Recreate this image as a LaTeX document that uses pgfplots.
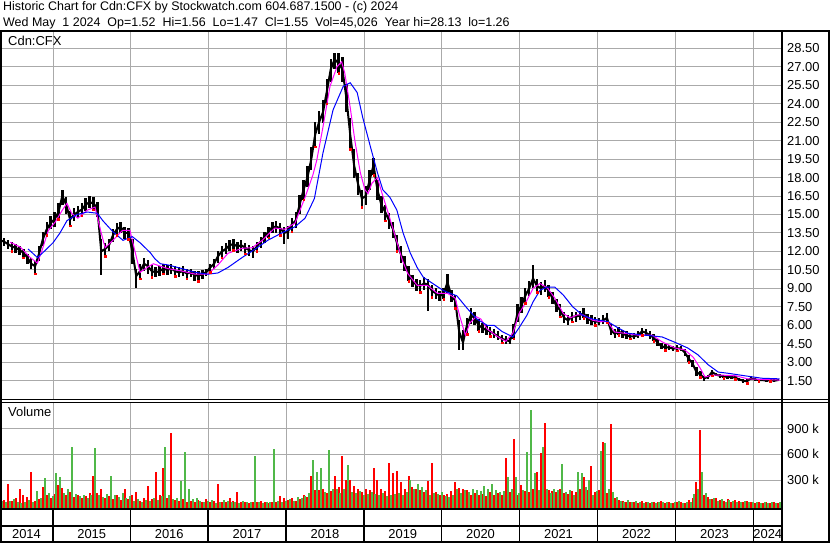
\documentclass[border=0pt]{standalone}
\usepackage{fontspec}
\setmainfont{Liberation Sans}
\usepackage{pgfplots}
\usepackage{pgfplotstable}
\pgfplotsset{compat=1.18}
\definecolor{gridgray}{RGB}{170,170,170}
\definecolor{volgreen}{RGB}{80,184,72}
\definecolor{volred}{RGB}{255,0,0}
\definecolor{magline}{RGB}{255,0,255}
\definecolor{blueline}{RGB}{0,0,255}

\pgfplotstableread{
t c lo hi
2014.32 12.9 12.5 13.3
2014.37 12.8 12.4 13.1
2014.42 12.6 12.2 12.9
2014.47 12.4 12.0 12.8
2014.52 12.3 11.9 12.6
2014.57 12.1 11.7 12.4
2014.62 11.9 11.5 12.2
2014.67 11.5 11.0 11.8
2014.72 11.0 10.6 11.5
2014.77 10.8 10.2 11.2
2014.82 11.8 11.2 12.4
2014.87 13.0 12.4 13.6
2014.92 13.8 13.3 14.4
2014.97 14.3 13.8 14.9
2015.02 14.6 14.0 15.2
2015.07 15.2 14.6 15.9
2015.12 16.5 15.8 17.0
2015.17 15.8 15.0 16.4
2015.22 14.6 14.1 15.3
2015.27 15.0 14.5 15.5
2015.32 15.2 14.7 15.7
2015.37 15.4 14.9 15.9
2015.42 15.8 15.3 16.3
2015.47 16.0 15.5 16.5
2015.52 15.9 15.4 16.4
2015.57 15.5 14.8 16.0
2015.62 12.0 10.1 13.0
2015.67 12.2 11.6 12.7
2015.72 12.5 12.0 13.0
2015.77 13.3 12.8 13.8
2015.82 13.8 13.3 14.3
2015.87 14.0 13.5 14.4
2015.92 13.5 13.0 14.0
2015.97 13.5 13.0 13.9
2016.02 12.0 11.0 13.0
2016.07 10.0 9.0 10.6
2016.12 10.4 9.8 11.0
2016.17 11.0 10.4 11.5
2016.22 10.8 10.2 11.3
2016.27 10.4 9.9 10.9
2016.32 10.3 9.9 10.7
2016.37 10.4 10.0 10.8
2016.42 10.6 10.2 11.0
2016.47 10.5 10.1 10.9
2016.52 10.6 10.2 11.0
2016.57 10.4 10.0 10.8
2016.62 10.3 9.9 10.7
2016.67 10.4 10.0 10.8
2016.72 10.2 9.8 10.6
2016.77 10.3 9.9 10.6
2016.82 10.1 9.6 10.4
2016.87 10.0 9.6 10.4
2016.92 10.2 9.8 10.5
2016.97 10.3 10.0 10.6
2017.02 10.7 10.3 11.0
2017.07 11.0 10.6 11.4
2017.12 11.6 11.1 12.0
2017.17 12.0 11.5 12.4
2017.22 12.2 11.8 12.7
2017.27 12.5 12.0 12.9
2017.32 12.6 12.1 13.0
2017.37 12.4 11.9 12.8
2017.42 12.5 12.0 12.9
2017.47 12.3 11.8 12.7
2017.52 12.1 11.6 12.5
2017.57 12.0 11.5 12.4
2017.62 12.4 12.0 12.8
2017.67 12.8 12.3 13.2
2017.72 13.2 12.7 13.6
2017.77 13.6 13.1 14.0
2017.82 14.0 13.5 14.4
2017.87 14.0 13.5 14.5
2017.92 13.9 13.3 14.3
2017.97 13.5 12.6 14.0
2018.02 13.6 13.0 14.1
2018.07 14.2 13.6 14.7
2018.12 14.5 13.9 15.2
2018.17 15.8 15.0 16.6
2018.22 17.0 16.2 17.8
2018.27 18.0 17.2 18.9
2018.32 19.5 18.6 20.5
2018.37 21.5 20.5 22.5
2018.42 22.5 21.5 23.4
2018.47 23.3 22.4 24.3
2018.52 25.0 24.0 26.0
2018.57 26.8 25.8 27.6
2018.62 27.6 26.8 28.1
2018.67 27.3 26.5 28.1
2018.72 26.8 25.8 27.8
2018.77 24.5 23.3 25.6
2018.82 21.5 20.3 22.8
2018.87 19.0 18.0 20.3
2018.92 17.5 16.6 18.4
2018.97 16.3 15.6 17.0
2019.02 16.5 15.8 17.3
2019.07 17.8 17.0 18.6
2019.12 19.0 18.2 19.6
2019.17 17.0 16.2 17.8
2019.22 15.8 15.1 16.5
2019.27 15.2 14.5 15.8
2019.32 14.5 13.8 15.1
2019.37 13.8 13.1 14.4
2019.42 12.7 12.0 13.3
2019.47 11.8 11.1 12.4
2019.52 11.0 10.4 11.6
2019.57 10.2 9.6 10.8
2019.62 9.6 9.1 10.1
2019.67 9.3 8.8 9.8
2019.72 9.2 8.7 9.7
2019.77 9.4 8.9 9.9
2019.82 9.3 7.2 9.8
2019.87 8.8 8.3 9.3
2019.92 8.6 8.1 9.0
2019.97 8.4 8.0 8.8
2020.02 8.5 8.1 9.0
2020.07 9.5 8.6 10.2
2020.12 8.4 7.9 8.9
2020.17 8.0 7.4 8.5
2020.22 5.5 4.0 6.4
2020.27 4.6 4.0 5.6
2020.32 6.0 5.3 6.6
2020.37 6.8 6.1 7.4
2020.42 6.6 6.0 7.1
2020.47 6.0 5.5 6.5
2020.52 5.8 5.4 6.2
2020.57 5.6 5.2 6.0
2020.62 5.5 5.1 5.9
2020.67 5.3 5.0 5.7
2020.72 5.1 4.8 5.5
2020.77 4.9 4.6 5.2
2020.82 4.8 4.5 5.1
2020.87 4.7 4.5 5.0
2020.92 5.5 4.9 6.1
2020.97 7.0 6.3 7.7
2021.02 7.6 7.0 8.3
2021.07 8.4 7.8 9.0
2021.12 9.0 8.4 9.6
2021.17 9.8 9.0 10.9
2021.22 9.2 8.7 9.8
2021.27 9.0 8.5 9.5
2021.32 9.2 8.7 9.7
2021.37 8.8 8.3 9.3
2021.42 8.2 7.7 8.7
2021.47 7.6 7.1 8.1
2021.52 7.2 6.7 7.7
2021.57 6.6 6.2 7.1
2021.62 6.4 6.0 6.8
2021.67 6.7 6.3 7.1
2021.72 6.7 6.3 7.1
2021.77 6.8 6.4 7.2
2021.82 7.0 6.6 7.4
2021.87 6.5 6.1 6.9
2021.92 6.4 6.0 6.8
2021.97 6.3 6.0 6.7
2022.02 6.3 6.0 6.6
2022.07 6.4 6.1 6.8
2022.12 6.6 6.2 7.0
2022.17 5.6 5.2 6.1
2022.22 5.3 5.0 5.7
2022.27 5.5 5.2 5.9
2022.32 5.3 5.0 5.6
2022.37 5.2 4.9 5.5
2022.42 5.1 4.9 5.4
2022.47 5.1 4.9 5.4
2022.52 5.2 5.0 5.5
2022.57 5.5 5.2 5.8
2022.62 5.4 5.1 5.7
2022.67 5.2 4.9 5.5
2022.72 5.0 4.7 5.3
2022.77 4.6 4.3 4.9
2022.82 4.3 4.1 4.6
2022.87 4.2 4.0 4.5
2022.92 4.2 4.0 4.4
2022.97 4.1 3.9 4.3
2023.02 4.15 3.95 4.4
2023.07 4.1 3.9 4.35
2023.12 3.8 3.5 4.1
2023.17 3.3 3.0 3.6
2023.22 2.9 2.6 3.2
2023.27 2.2 1.9 2.6
2023.32 2.0 1.8 2.3
2023.37 1.7 1.5 1.9
2023.42 1.8 1.6 2.0
2023.47 2.2 1.9 2.4
2023.52 2.0 1.85 2.15
2023.57 1.9 1.75 2.05
2023.62 1.85 1.7 2.0
2023.67 1.8 1.65 1.95
2023.72 1.8 1.65 1.95
2023.77 1.75 1.6 1.9
2023.82 1.6 1.45 1.75
2023.87 1.5 1.3 1.65
2023.92 1.45 1.3 1.6
2023.97 1.7 1.55 1.85
2024.02 1.6 1.5 1.75
2024.07 1.55 1.45 1.65
2024.12 1.55 1.45 1.65
2024.17 1.5 1.4 1.6
2024.22 1.55 1.45 1.65
2024.27 1.5 1.4 1.6
2024.32 1.55 1.47 1.6
}\price

\pgfplotstableread{
t m
2014.45 12.75
2014.58 12.35
2014.70 11.55
2014.80 11.05
2014.86 12.1
2014.94 13.7
2015.03 14.4
2015.12 15.35
2015.18 15.9
2015.24 15.1
2015.32 14.7
2015.44 15.35
2015.54 15.6
2015.60 14.0
2015.67 12.3
2015.77 12.9
2015.89 13.7
2015.99 13.7
2016.05 12.1
2016.12 10.3
2016.21 10.7
2016.29 11.0
2016.38 10.8
2016.48 10.6
2016.66 10.4
2016.83 10.15
2016.99 10.15
2017.12 10.9
2017.25 11.85
2017.43 12.25
2017.56 12.3
2017.69 12.9
2017.85 13.9
2017.98 13.8
2018.11 14.3
2018.24 16.4
2018.34 18.2
2018.39 19.4
2018.47 22.1
2018.56 25.4
2018.65 27.0
2018.71 27.4
2018.75 26.5
2018.82 23.7
2018.88 21.0
2018.95 18.4
2019.01 17.0
2019.05 16.7
2019.10 17.55
2019.17 18.0
2019.23 16.7
2019.31 15.1
2019.40 13.2
2019.49 11.3
2019.56 10.2
2019.68 9.25
2019.81 9.25
2019.94 8.6
2020.07 8.6
2020.17 8.2
2020.23 6.7
2020.30 5.2
2020.36 6.2
2020.44 6.7
2020.50 6.5
2020.58 5.7
2020.71 5.1
2020.82 4.7
2020.91 5.35
2020.99 6.95
2021.09 8.0
2021.17 9.0
2021.26 9.4
2021.36 9.0
2021.45 8.2
2021.56 6.95
2021.65 6.6
2021.74 6.85
2021.81 6.85
2021.94 6.4
2022.03 6.3
2022.13 6.3
2022.22 5.45
2022.35 5.35
2022.52 5.2
2022.70 5.2
2022.83 4.65
2023.00 4.15
2023.12 4.0
2023.23 3.4
2023.32 2.5
2023.38 1.8
2023.47 1.95
2023.60 1.95
2023.77 1.9
2023.93 1.65
2024.11 1.6
2024.34 1.55
}\maShort

\pgfplotstableread{
t b
2014.68 12.2
2014.80 11.5
2014.87 11.9
2015.00 12.7
2015.09 13.5
2015.18 14.5
2015.31 15.0
2015.44 15.2
2015.57 15.1
2015.64 14.5
2015.77 13.6
2015.90 12.9
2016.02 13.2
2016.12 12.7
2016.25 11.9
2016.31 11.4
2016.38 11.0
2016.48 10.9
2016.66 10.6
2016.83 10.3
2016.99 10.15
2017.12 10.25
2017.25 10.7
2017.43 11.5
2017.60 12.2
2017.76 12.9
2017.94 13.5
2018.11 14.0
2018.24 14.7
2018.36 16.3
2018.47 20.0
2018.60 23.5
2018.73 25.4
2018.82 25.7
2018.91 24.9
2018.98 22.9
2019.08 20.5
2019.17 18.4
2019.24 17.0
2019.33 16.4
2019.42 15.35
2019.50 13.5
2019.59 11.9
2019.68 10.7
2019.76 9.9
2019.88 9.4
2020.01 8.85
2020.10 8.6
2020.19 8.4
2020.32 7.4
2020.45 6.5
2020.58 6.0
2020.67 6.0
2020.77 5.5
2020.91 5.05
2020.99 5.8
2021.09 6.8
2021.17 7.9
2021.26 8.85
2021.35 9.1
2021.45 9.1
2021.56 8.45
2021.68 7.5
2021.81 6.8
2021.94 6.5
2022.13 6.3
2022.26 5.8
2022.39 5.35
2022.61 5.2
2022.83 5.05
2023.00 4.6
2023.16 4.15
2023.29 3.6
2023.42 2.8
2023.55 2.2
2023.68 2.1
2023.89 1.9
2024.11 1.7
2024.34 1.65
}\maLong

% volume in thousands: r = down-day (red), g = up-day (green)
\pgfplotstableread{
t r g
2014.32 85 60
2014.37 70 40
2014.42 254 55
2014.47 60 75
2014.52 90 45
2014.57 195 30
2014.62 126 50
2014.67 106 70
2014.72 397 40
2014.77 60 172
2014.82 80 90
2014.87 223 327
2014.92 120 150
2014.97 90 110
2015.02 140 378
2015.07 242 339
2015.12 203 150
2015.17 120 200
2015.22 160 688
2015.27 100 140
2015.32 130 110
2015.37 90 120
2015.42 110 90
2015.47 150 130
2015.52 347 676
2015.57 150 120
2015.62 200 100
2015.67 90 140
2015.72 110 347
2015.77 80 120
2015.82 130 100
2015.87 70 150
2015.92 192 90
2015.97 80 110
2016.02 120 60
2016.07 163 80
2016.12 60 50
2016.17 90 70
2016.22 234 60
2016.27 80 90
2016.32 397 70
2016.37 120 110
2016.42 444 688
2016.47 90 120
2016.52 851 80
2016.57 70 90
2016.62 60 292
2016.67 80 630
2016.72 50 192
2016.77 60 80
2016.82 40 90
2016.87 70 60
2016.92 50 40
2016.97 80 60
2017.02 40 70
2017.07 60 30
2017.12 254 40
2017.17 50 70
2017.22 40 60
2017.27 90 50
2017.32 60 40
2017.37 165 30
2017.42 40 60
2017.47 50 40
2017.52 30 50
2017.57 40 583
2017.62 50 40
2017.67 60 30
2017.72 40 50
2017.77 30 40
2017.82 50 661
2017.87 40 60
2017.92 114 50
2017.97 93 60
2018.02 70 80
2018.07 90 60
2018.12 60 100
2018.17 80 90
2018.22 120 110
2018.27 100 150
2018.32 347 533
2018.37 180 397
2018.42 180 436
2018.47 200 160
2018.52 150 649
2018.57 170 200
2018.62 347 190
2018.67 220 150
2018.72 579 200
2018.77 300 475
2018.82 300 160
2018.87 230 150
2018.92 200 170
2018.97 160 130
2019.02 190 140
2019.07 180 160
2019.12 436 140
2019.17 300 130
2019.22 200 150
2019.27 170 110
2019.32 494 120
2019.37 378 140
2019.42 405 150
2019.47 281 130
2019.52 190 160
2019.57 347 300
2019.62 220 200
2019.67 200 250
2019.72 180 220
2019.77 160 180
2019.82 289 130
2019.87 502 150
2019.92 160 140
2019.97 130 160
2020.02 120 110
2020.07 140 100
2020.12 170 130
2020.17 281 200
2020.22 203 150
2020.27 200 180
2020.32 180 160
2020.37 130 200
2020.42 150 180
2020.47 120 170
2020.52 140 230
2020.57 110 200
2020.62 160 250
2020.67 120 180
2020.72 150 160
2020.77 130 170
2020.82 552 339
2020.87 160 200
2020.92 777 339
2020.97 120 150
2021.02 242 180
2021.07 170 630
2021.12 160 1114
2021.17 200 376
2021.22 397 180
2021.27 610 688
2021.32 959 200
2021.37 180 150
2021.42 170 200
2021.47 160 180
2021.52 200 486
2021.57 150 160
2021.62 140 180
2021.67 170 130
2021.72 160 397
2021.77 200 378
2021.82 339 220
2021.87 180 300
2021.92 463 130
2021.97 160 170
2022.02 180 637
2022.07 746 726
2022.12 150 200
2022.17 951 160
2022.22 90 100
2022.27 70 60
2022.32 60 50
2022.37 40 70
2022.42 50 40
2022.47 40 60
2022.52 30 40
2022.57 60 30
2022.62 40 50
2022.67 30 40
2022.72 50 30
2022.77 40 50
2022.82 60 40
2022.87 30 50
2022.92 40 30
2022.97 30 40
2023.02 50 60
2023.07 40 30
2023.12 30 40
2023.17 70 50
2023.22 90 140
2023.27 273 200
2023.32 882 397
2023.37 120 150
2023.42 100 80
2023.47 80 90
2023.52 90 60
2023.57 70 80
2023.62 60 50
2023.67 80 70
2023.72 50 60
2023.77 70 40
2023.82 60 50
2023.87 40 60
2023.92 60 40
2023.97 40 50
2024.02 30 40
2024.07 40 30
2024.12 30 50
2024.17 40 30
2024.22 30 40
2024.27 40 30
2024.32 30 40
}\vol

\begin{document}
\begin{tikzpicture}[x=1bp,y=1bp]
\fill[white] (0,0) rectangle (830,543);
\path[use as bounding box] (0,0) rectangle (830,543);

% background grid (year boundaries, price and volume levels)
\foreach \xx in {53.5,130.5,208.5,286.5,364.5,441.5,519.5,597.5,675.5,753.5} {
  \draw[gridgray, line width=1.3bp] (\xx,143) -- (\xx,512);
  \draw[gridgray, line width=1.3bp] (\xx,34) -- (\xx,141);
}
\foreach \yy in {162.5,180.5,199.5,217.5,236.5,254.5,273.5,291.5,310.5,328.5,346.5,365.5,383.5,402.5,420.5,439.5,457.5,476.5,494.5,62.5,88.5,114.5}
  \draw[gridgray, line width=1.3bp] (0,\yy) -- (782,\yy);

\pgfplotsset{common/.style={
  scale only axis, width=782bp,
  xmin=2014.319, xmax=2024.37,
  xtick={2015,2016,2017,2018,2019,2020,2021,2022,2023,2024},
  xticklabel=\empty,
  axis line style={draw=none},
  tick style={draw=none}, major tick length=0pt,
  yticklabel pos=right,
  yticklabel style={font=\fontsize{13}{13}\selectfont, anchor=west, inner sep=0pt, xshift=5bp},
}}

% price panel
\begin{axis}[common, at={(0bp,512bp)}, anchor=north west, height=369bp,
  ymin=-0.068, ymax=29.905,
  ytick={1.5,3,4.5,6,7.5,9,10.5,12,13.5,15,16.5,18,19.5,21,22.5,24,25.5,27,28.5},
  yticklabel={\pgfmathprintnumber[assume math mode=true,fixed,fixed zerofill,precision=2]{\tick}}]
\addplot[black, line width=2bp, mark=none,
  error bars/.cd, y dir=both, y explicit, error mark=none,
  error bar style={black, line width=2.4bp}]
  table[x=t, y=c, y error plus expr=\thisrow{hi}-\thisrow{c}, y error minus expr=\thisrow{c}-\thisrow{lo}] {\price};
\addplot[only marks, mark=square*, mark size=0.8bp, red, each nth point=3] table[x=t, y=lo] {\price};
\addplot[magline, line width=1bp, mark=none] table[x=t, y=m] {\maShort};
\addplot[blueline, line width=1bp, mark=none] table[x=t, y=b] {\maLong};
\end{axis}

% volume panel
\begin{axis}[common, at={(0bp,141bp)}, anchor=north west, height=107bp,
  ymin=0, ymax=1244,
  ytick={337,637,937}, yticklabels={300 k,600 k,900 k}]
\addplot[ycomb, draw=volred, line width=2bp, mark=none] table[x=t, y expr=\thisrow{r}+37] {\vol};
\addplot[ycomb, draw=volgreen, line width=2bp, mark=none] table[x expr=\thisrow{t}+0.025, y expr=\thisrow{g}+37] {\vol};
\end{axis}

% frame
\draw[line width=2bp] (0,512) -- (830,512);
\draw[line width=2bp] (1,512) -- (1,0);
\draw[line width=2bp] (782,512) -- (782,0);
\draw[line width=2bp] (829,512) -- (829,0);
\draw[line width=1.2bp] (0,143.5) -- (830,143.5);
\draw[line width=1.2bp] (0,140.5) -- (830,140.5);
\draw[line width=2bp] (0,33.5) -- (782,33.5);
\draw[line width=1.5bp] (0,17) -- (782,17);
\draw[line width=2bp] (0,1) -- (830,1);
\foreach \xx in {53,130.5,208,286,364,441.5,519.5,597.5,675.5,753.5}
  \draw[line width=1.5bp] (\xx,33.5) -- (\xx,1);

\begin{scope}[every node/.style={font=\fontsize{13}{13}\selectfont, inner sep=0pt}]
\foreach \xx/\yy in {26.5/2014,91.75/2015,169.25/2016,247/2017,325/2018,402.75/2019,480.5/2020,558.5/2021,636.5/2022,714.5/2023,767.75/2024}
  \node[anchor=base] at (\xx,4.5) {\yy};
\node[anchor=base west] at (8,497) {Cdn:CFX};
\node[anchor=base west] at (8,126) {Volume};
\end{scope}

\begin{scope}[every node/.style={font=\fontsize{12.5}{12.5}\selectfont, inner sep=0pt, anchor=base west}]
\node at (3,532) {Historic Chart for Cdn:CFX by Stockwatch.com 604.687.1500 - (c) 2024};
\node at (3,516.5) {Wed May\ \ 1 2024\ \ Op=1.52\ \ Hi=1.56\ \ Lo=1.47\ \ Cl=1.55\ \ Vol=45,026\ \ Year hi=28.13\ \ lo=1.26};
\end{scope}
\end{tikzpicture}
\end{document}
